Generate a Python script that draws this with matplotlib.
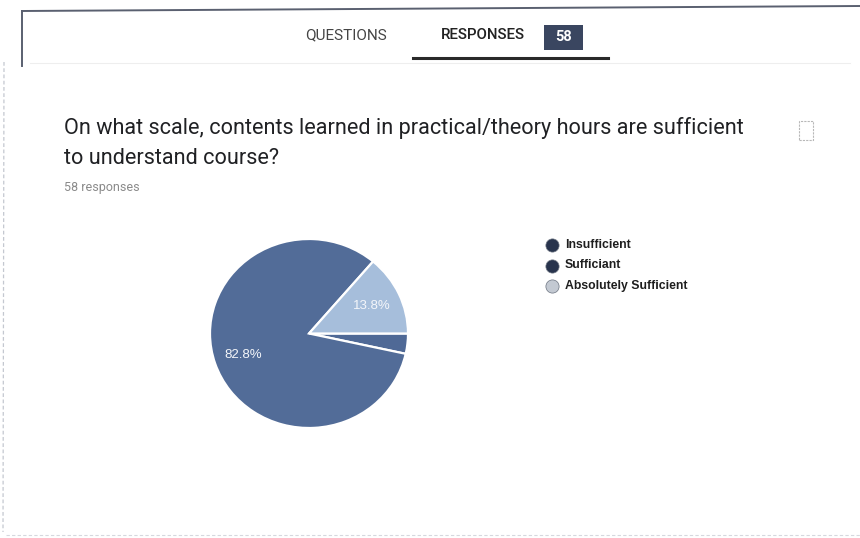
import matplotlib.pyplot as plt
from matplotlib.lines import Line2D
from matplotlib.patches import Rectangle

# survey answers (58 responses)
labels = ['Insufficient', 'Sufficiant', 'Absolutely Sufficient']
counts = [2, 48, 8]
colors = ['#4f6996', '#526c98', '#a6bedb']

question = ('On what scale, contents learned in practical/theory hours are sufficient\n'
            'to understand course?')
n_resp = sum(counts)

W, H = 860, 538
fig = plt.figure(figsize=(W / 100, H / 100), dpi=100)
fig.patch.set_facecolor('white')

def px(x, y):
    # pixel coords (top-left origin) -> figure fraction
    return x / W, 1 - y / H

def seg(x0, y0, x1, y1, **kw):
    a, b = px(x0, y0)
    c, d = px(x1, y1)
    fig.add_artist(Line2D([a, c], [b, d], **kw))

# page frame (scanned sheet)
seg(22, 11, 860, 6, color='#5a6070', lw=1.4)
seg(22, 11, 22, 66, color='#5a6070', lw=1.4)
seg(4, 62, 3, 532, color='#c4c8d0', lw=0.9, ls=(0, (3, 2)))
seg(6, 535, 860, 535, color='#d6d8de', lw=0.8, ls=(0, (3, 2)))

# tab header
fig.text(*px(346, 35), 'QUESTIONS', ha='center', va='center', fontsize=11,
         family='Roboto', color='#444444')
fig.text(*px(483, 35), 'RESPONSES', ha='center', va='center', fontsize=10.8,
         family='Roboto', color='#222222', fontweight='medium')
bx, by = px(544, 50)
fig.add_artist(Rectangle((bx, by), 39 / W, 25 / H, transform=fig.transFigure,
                         facecolor='#3a4660', edgecolor='none'))
fig.text(*px(563.5, 37), str(n_resp), ha='center', va='center', fontsize=10.5,
         family='Roboto', color='white', fontweight='bold')
seg(413, 58, 608, 58, color='#2a2a2a', lw=2.2)
seg(30, 63, 850, 63, color='#eeeeee', lw=0.8, zorder=0)

# question text
fig.text(*px(64, 117), question, ha='left', va='top', fontsize=15.6,
         family='Roboto', color='#202124', linespacing=1.55)
fig.text(*px(64, 188), f'{n_resp} responses', ha='left', va='center', fontsize=9,
         family='Roboto', color='#8a8a8a')

# copy icon
cx, cy = px(799, 140)
fig.add_artist(Rectangle((cx, cy), 14 / W, 19 / H, transform=fig.transFigure,
                         facecolor='none', edgecolor='#b8b8b8', lw=0.8, ls=(0, (2, 1))))

# pie (scan is slightly squashed vertically)
ax = fig.add_axes([210 / W, (H - 428) / H, 198 / W, 189 / H])
ax.pie(counts, colors=colors, startangle=0, counterclock=False,
       wedgeprops=dict(edgecolor='white', linewidth=1.6),
       autopct=lambda p: f'{p:.1f}%' if p > 5 else '', pctdistance=0.7,
       textprops=dict(color='#f4f6fa', fontsize=9.5, family='Liberation Sans'))
ax.set_xlim(-1.0, 1.0)
ax.set_ylim(-1.0, 1.0)
ax.set_aspect('auto')
ax.axis('off')

# legend
for i, lab in enumerate(labels):
    y = 245 + i * 20.5
    mc = '#28344d' if i < 2 else '#c3c9d2'
    fig.add_artist(Line2D([px(552, 0)[0]], [px(0, y)[1]], marker='o', markersize=9.5,
                          color=mc, markeredgecolor='#6b7380', markeredgewidth=0.5,
                          transform=fig.transFigure))
    fig.text(*px(565, y), lab, ha='left', va='center', fontsize=8.8,
             family='Liberation Sans', color='#1e1e1e', fontweight='bold')

fig.savefig('out.png', dpi=100)
